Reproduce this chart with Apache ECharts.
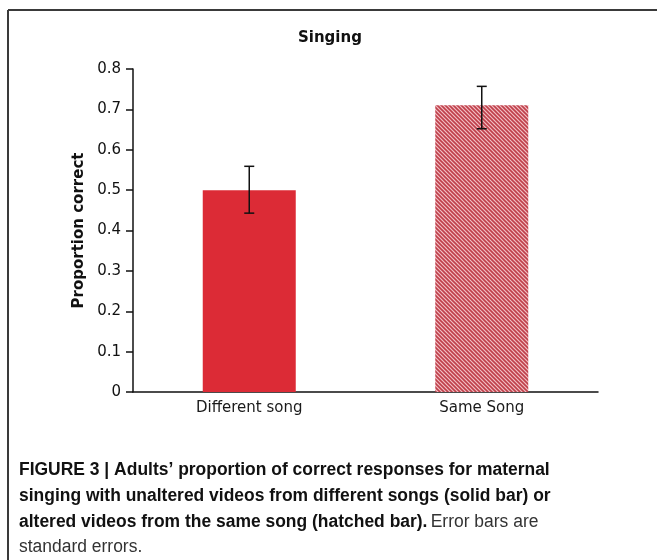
<!DOCTYPE html>
<html>
<head>
<meta charset="utf-8">
<script src="https://cdn.jsdelivr.net/npm/echarts@6/dist/echarts.min.js"></script>
<style>
  html, body { margin: 0; padding: 0; background: #fff; }
  #chart { width: 657px; height: 560px; }
</style>
</head>
<body>
<div id="chart"></div>
<script>
// Conditions and mean proportion correct, with standard-error bounds
const categories = ['Different song', 'Same Song'];
const meanCorrect = [0.50, 0.71];
const errLow = [0.443, 0.652];
const errHigh = [0.559, 0.757];
const yTicks = { min: 0, max: 0.8, step: 0.1 };

const captionLines = [
  'FIGURE 3 | Adults\u2019 proportion of correct responses for maternal',
  'singing with unaltered videos from different songs (solid bar) or'
];
const captionBoldTail = 'altered videos from the same song (hatched bar).';
const captionPlainTail = 'Error bars are';
const captionLast = 'standard errors.';

// Diagonal hatch tile for the second bar
function hatchTile() {
  const c = document.createElement('canvas');
  const s = 4;
  c.width = s; c.height = s;
  const g = c.getContext('2d');
  g.fillStyle = '#f2bfc4';
  g.fillRect(0, 0, s, s);
  g.strokeStyle = '#bf3f4a';
  g.lineWidth = 1.6;
  g.beginPath();
  g.moveTo(-1, -1); g.lineTo(s + 1, s + 1);
  g.moveTo(-1 - s, -1); g.lineTo(1, s + 1);
  g.moveTo(s - 1, -1); g.lineTo(2 * s + 1, s + 1);
  g.stroke();
  return c;
}

const chart = echarts.init(document.getElementById('chart'), null, { renderer: 'canvas' });

const captionFont = '"Liberation Sans", Arial, sans-serif';
const capScale = 0.97;

const option = {
  animation: false,
  backgroundColor: '#ffffff',
  title: {
    text: 'Singing',
    left: 293,
    top: 26,
    textStyle: { fontFamily: 'DejaVu Sans', fontWeight: 'bold', fontSize: 15, color: '#111' }
  },
  grid: { left: 133, right: 59, top: 69, bottom: 168 },
  xAxis: {
    type: 'category',
    data: categories,
    axisTick: { show: false },
    axisLine: { lineStyle: { color: '#111', width: 1.5 } },
    axisLabel: { fontFamily: 'DejaVu Sans', fontSize: 15, color: '#1a1a1a', margin: 9 }
  },
  yAxis: {
    type: 'value',
    min: yTicks.min, max: yTicks.max, interval: yTicks.step,
    name: 'Proportion correct',
    nameLocation: 'middle',
    nameGap: 46,
    nameRotate: 90,
    nameTextStyle: { fontFamily: 'DejaVu Sans', fontWeight: 'bold', fontSize: 15, color: '#111' },
    splitLine: { show: false },
    axisLine: { show: true, lineStyle: { color: '#111', width: 1.5 } },
    axisTick: { show: true, length: 7, lineStyle: { color: '#111', width: 1.5 } },
    axisLabel: {
      fontFamily: 'DejaVu Sans', fontSize: 15, color: '#111', margin: 12,
      formatter: v => (v === 0 ? '0' : v.toFixed(1))
    }
  },
  series: [
    {
      type: 'bar',
      barWidth: '40%',
      data: meanCorrect.map((v, i) => ({
        value: v,
        itemStyle: i === 0
          ? { color: '#dc2b36' }
          : { color: { image: hatchTile(), repeat: 'repeat' } }
      }))
    },
    {
      type: 'custom',
      z: 10,
      data: categories.map((c, i) => [i, errLow[i], errHigh[i]]),
      renderItem: function (params, api) {
        const lo = api.coord([api.value(0), api.value(1)]);
        const hi = api.coord([api.value(0), api.value(2)]);
        const w = 5;
        const st = { stroke: '#111', lineWidth: 1.5 };
        return {
          type: 'group',
          children: [
            { type: 'line', shape: { x1: hi[0], y1: hi[1], x2: lo[0], y2: lo[1] }, style: st },
            { type: 'line', shape: { x1: hi[0] - w, y1: hi[1], x2: hi[0] + w, y2: hi[1] }, style: st },
            { type: 'line', shape: { x1: lo[0] - w, y1: lo[1], x2: lo[0] + w, y2: lo[1] }, style: st }
          ]
        };
      }
    }
  ],
  graphic: [
    // page frame
    { type: 'line', shape: { x1: 8, y1: 10, x2: 657, y2: 10 }, style: { stroke: '#3a3a3a', lineWidth: 2 } },
    { type: 'line', shape: { x1: 8, y1: 10, x2: 8, y2: 560 }, style: { stroke: '#3a3a3a', lineWidth: 2 } },
    // caption
    {
      type: 'text', x: 19, y: 470, scaleX: capScale,
      style: { text: captionLines[0], font: 'bold 18px ' + captionFont, fill: '#111', textVerticalAlign: 'middle' }
    },
    {
      type: 'text', x: 19, y: 496, scaleX: capScale,
      style: { text: captionLines[1], font: 'bold 18px ' + captionFont, fill: '#111', textVerticalAlign: 'middle' }
    },
    {
      type: 'text', x: 19, y: 522, scaleX: capScale,
      style: {
        text: '{b|' + captionBoldTail + '} {n|' + captionPlainTail + '}',
        textVerticalAlign: 'middle',
        rich: {
          b: { font: 'bold 18px ' + captionFont, fill: '#111' },
          n: { font: '18px ' + captionFont, fill: '#333' }
        }
      }
    },
    {
      type: 'text', x: 19, y: 547, scaleX: capScale,
      style: { text: captionLast, font: '18px ' + captionFont, fill: '#333', textVerticalAlign: 'middle' }
    }
  ]
};

chart.setOption(option);
</script>
</body>
</html>
